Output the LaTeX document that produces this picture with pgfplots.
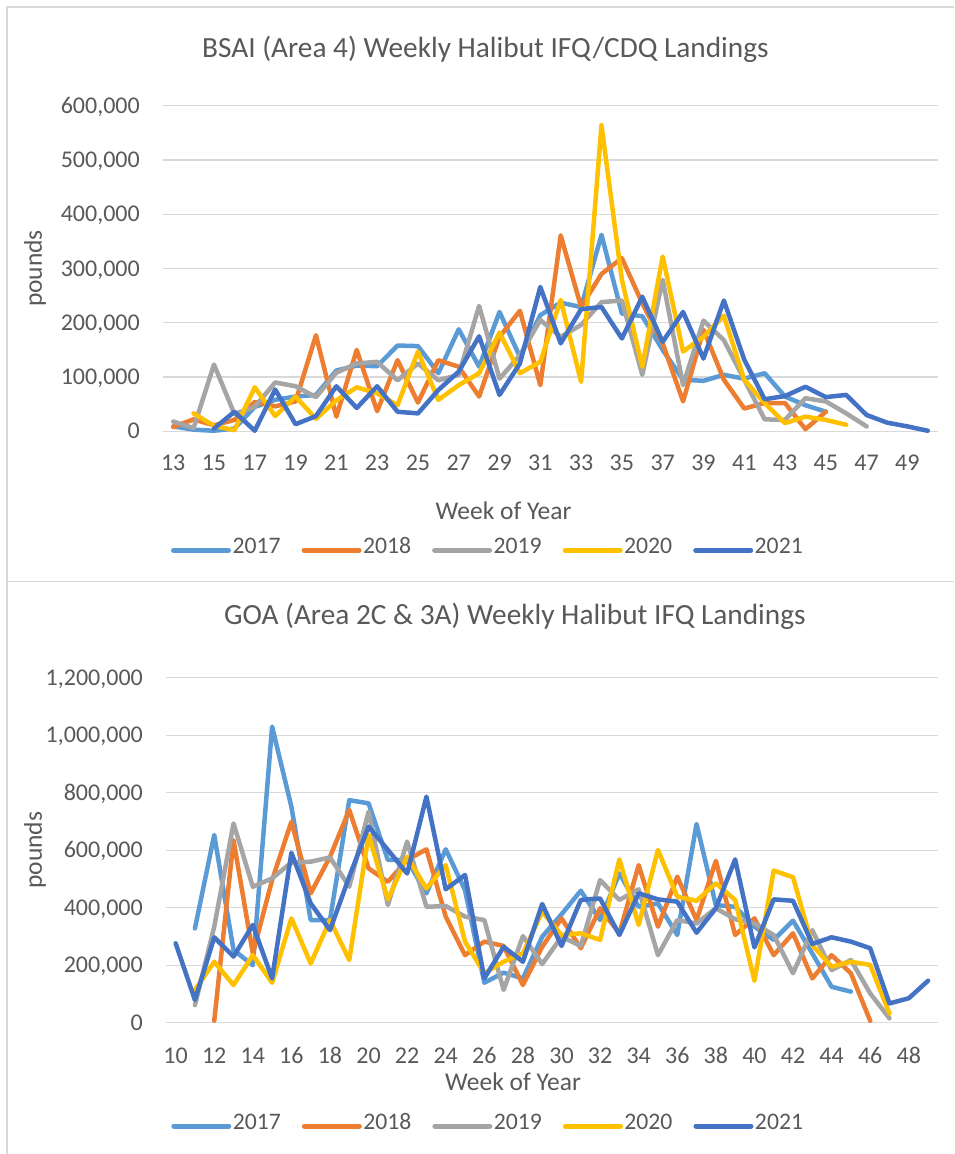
\documentclass[border=0pt]{standalone}
\usepackage{fontspec}
\setmainfont{Carlito}
\usepackage{pgfplots}
\usepackage{pgfplotstable}
\pgfplotsset{compat=1.18}
\definecolor{cA}{HTML}{5B9BD5}
\definecolor{cB}{HTML}{ED7D31}
\definecolor{cC}{HTML}{A5A5A5}
\definecolor{cD}{HTML}{FFC000}
\definecolor{cE}{HTML}{4472C4}
\definecolor{txt}{HTML}{595959}
\definecolor{grd}{HTML}{D9D9D9}

\pgfplotstableread{
w a b c d e
13 9000 8000 18000 nan nan
14 3000 22000 6000 33000 nan
15 1000 11000 123000 10000 5000
16 5000 21000 32000 2000 36000
17 45000 54000 45000 81000 1000
18 58000 46000 90000 28000 77000
19 64000 55000 83000 64000 13000
20 67000 177000 63000 23000 28000
21 112000 27000 108000 57000 83000
22 121000 150000 125000 81000 43000
23 120000 37000 128000 70000 83000
24 158000 131000 94000 48000 36000
25 157000 53000 125000 147000 33000
26 107000 131000 94000 58000 76000
27 188000 119000 104000 85000 110000
28 119000 64000 231000 107000 175000
29 220000 174000 97000 182000 67000
30 137000 222000 140000 107000 125000
31 214000 85000 205000 128000 266000
32 237000 361000 174000 242000 162000
33 229000 229000 196000 91000 225000
34 362000 290000 238000 564000 229000
35 217000 319000 241000 279000 171000
36 212000 236000 104000 119000 248000
37 150000 162000 279000 322000 165000
38 95000 55000 85000 147000 220000
39 93000 187000 204000 174000 134000
40 104000 95000 168000 213000 241000
41 97000 42000 95000 95000 132000
42 107000 52000 22000 52000 59000
43 64000 52000 21000 15000 65000
44 48000 4000 61000 27000 82000
45 36000 36000 55000 21000 63000
46 nan nan 33000 12000 67000
47 nan nan 9000 nan 30000
48 nan nan nan nan 16000
49 nan nan nan nan 9000
50 nan nan nan nan 1000
}\topdata

\pgfplotstableread{
w a b c d e
10 nan nan nan nan 276000
11 328000 nan 61000 114000 79000
12 653000 7000 334000 212000 297000
13 253000 635000 693000 131000 230000
14 200000 241000 473000 235000 340000
15 1030000 496000 502000 139000 154000
16 751000 699000 557000 363000 591000
17 357000 450000 560000 206000 415000
18 357000 577000 575000 357000 322000
19 774000 740000 473000 218000 508000
20 763000 537000 734000 653000 682000
21 566000 490000 409000 429000 601000
22 566000 566000 630000 577000 519000
23 450000 603000 403000 467000 786000
24 603000 369000 406000 548000 464000
25 461000 235000 369000 282000 514000
26 139000 282000 357000 172000 154000
27 174000 267000 114000 212000 264000
28 154000 131000 301000 241000 212000
29 299000 264000 204000 386000 413000
30 377000 363000 299000 305000 267000
31 459000 259000 267000 311000 427000
32 357000 398000 496000 288000 432000
33 519000 311000 427000 568000 305000
34 403000 548000 464000 340000 450000
35 415000 334000 235000 601000 429000
36 305000 508000 357000 438000 421000
37 691000 357000 345000 424000 313000
38 409000 563000 398000 485000 398000
39 403000 305000 360000 427000 568000
40 334000 363000 345000 146000 262000
41 288000 235000 305000 529000 429000
42 355000 311000 172000 506000 424000
43 241000 154000 322000 270000 274000
44 125000 235000 183000 195000 297000
45 108000 172000 218000 212000 282000
46 nan 7000 102000 201000 259000
47 nan nan 15000 32000 67000
48 nan nan nan nan 85000
49 nan nan nan nan 146000
}\botdata

\pgfplotsset{halibut/.style={
  scale only axis, clip=false,
  axis line style={draw=none},
  tick style={draw=none},
  ymajorgrids, grid style={grd, line width=1.3pt},
  tick label style={font=\fontsize{24}{28}\selectfont, text=txt, inner sep=0pt},
  /pgf/number format/fixed,
  /pgf/number format/1000 sep={,},
  /pgf/number format/assume math mode=true,
  scaled y ticks=false,
  yticklabel style={anchor=base east, xshift=-23pt, yshift=-7.6pt},
  title style={font=\fontsize{29.3}{34}\selectfont, text=txt, anchor=base, inner sep=0pt},
  xlabel style={font=\fontsize{25.5}{30}\selectfont, text=txt, anchor=base, inner sep=0pt},
  ylabel style={font=\fontsize{25.5}{30}\selectfont, text=txt, anchor=center, inner sep=0pt},
  legend columns=5,
  legend style={draw=none, fill=none, inner sep=0pt, outer sep=0pt,
    font=\fontsize{23.7}{28}\selectfont, text=txt,
    nodes={inner ysep=0pt, inner xsep=1.5pt, text=txt, anchor=base west}},
  legend image code/.code={\path[draw=none, fill=none] (-22pt,0.3em) -- (0pt,0.3em);
    \draw[##1, line width=5pt, line cap=round] (0pt,0.3em) -- (55pt,0.3em);},
  every axis plot/.append style={line width=4.5pt, line join=round, line cap=round, mark=none},
}}

\begin{document}
\begin{tikzpicture}[x=1pt,y=1pt]
\path[use as bounding box, fill=white] (0,0) rectangle (954,1154);
\draw[grd, line width=1.3pt] (7,0) -- (7,1147) -- (954,1147);
\draw[grd, line width=1.3pt] (7,572.3) -- (954,572.3);

\begin{axis}[halibut,
  at={(163pt,722.7pt)}, anchor=south west,
  width=775pt, height=325.6pt,
  xmin=12.5, xmax=50.5, ymin=0, ymax=600000,
  xtick={13,15,...,49},
  ytick={0,100000,...,600000},
  xticklabel style={anchor=base, yshift=-39pt},
  title={BSAI (Area 4) Weekly Halibut IFQ/CDQ Landings},
  title style={at={(axis description cs:0.416,1.130)}},
  xlabel={Week of Year},
  xlabel style={at={(axis description cs:0.4394,-0.2703)}},
  ylabel={pounds},
  ylabel style={at={(axis description cs:-0.165,0.5)}},
  legend style={at={(axis description cs:-0.0148,-0.352)}, anchor=west},
]
\addplot[cA] table[x=w,y=a] {\topdata};
\addplot[cB] table[x=w,y=b] {\topdata};
\addplot[cC] table[x=w,y=c] {\topdata};
\addplot[cD] table[x=w,y=d] {\topdata};
\addplot[cE] table[x=w,y=e] {\topdata};
\legend{2017,2018,2019,2020,2021}
\end{axis}

\begin{axis}[halibut,
  at={(166pt,131.3pt)}, anchor=south west,
  width=771.7pt, height=345pt,
  xmin=9.5, xmax=49.5, ymin=0, ymax=1200000,
  xtick={10,12,...,48},
  ytick={0,200000,...,1200000},
  xticklabel style={anchor=base, yshift=-40.6pt},
  title={GOA (Area 2C \& 3A) Weekly Halibut IFQ Landings},
  title style={at={(axis description cs:0.452,1.1354)}},
  xlabel={Week of Year},
  xlabel style={at={(axis description cs:0.4497,-0.197)}},
  ylabel={pounds},
  ylabel style={at={(axis description cs:-0.1698,0.5)}},
  legend style={at={(axis description cs:-0.0184,-0.287)}, anchor=west},
]
\addplot[cA] table[x=w,y=a] {\botdata};
\addplot[cB] table[x=w,y=b] {\botdata};
\addplot[cC] table[x=w,y=c] {\botdata};
\addplot[cD] table[x=w,y=d] {\botdata};
\addplot[cE] table[x=w,y=e] {\botdata};
\legend{2017,2018,2019,2020,2021}
\end{axis}
\end{tikzpicture}
\end{document}
